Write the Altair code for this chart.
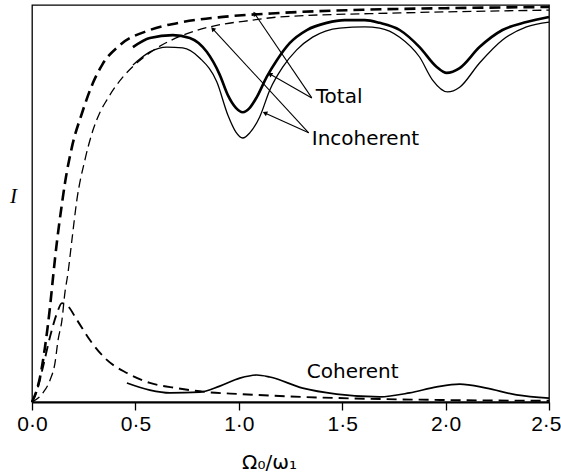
import math
import altair as alt
import pandas as pd

# ---- data (x = Omega0/omega1, y = I, arbitrary units 0..1) ----
# thick dashed curve (upper)
tdash_x = [0, 0.02, 0.039, 0.063, 0.087, 0.101, 0.111, 0.145, 0.159, 0.193, 0.242, 0.295,
           0.340, 0.425, 0.570, 0.729, 0.923, 1.2, 1.6, 2.0, 2.5]
tdash_y = [0, 0.025, 0.063, 0.139, 0.239, 0.31, 0.36, 0.50, 0.55, 0.642, 0.728, 0.804,
           0.850, 0.899, 0.937, 0.957, 0.970, 0.980, 0.988, 0.992, 0.995]
# thin dashed curve
ndash_x = [0, 0.053, 0.087, 0.111, 0.126, 0.145, 0.159, 0.174, 0.193, 0.217, 0.256, 0.295,
           0.329, 0.362, 0.440, 0.488, 0.570, 0.729, 0.860, 1.068, 1.198, 1.778, 2.5]
ndash_y = [0, 0.023, 0.055, 0.098, 0.156, 0.207, 0.275, 0.325, 0.408, 0.509, 0.610, 0.685,
           0.730, 0.761, 0.819, 0.845, 0.880, 0.924, 0.945, 0.962, 0.970, 0.980, 0.987]
# thick solid "Total"
total_x = [0.488, 0.570, 0.681, 0.763, 0.845, 0.908, 0.947, 0.986, 1.019, 1.053, 1.087, 1.135,
           1.184, 1.246, 1.329, 1.425, 1.512, 1.609, 1.681, 1.778, 1.874, 1.957, 2.005, 2.068,
           2.164, 2.275, 2.391, 2.5]
total_y = [0.894, 0.917, 0.924, 0.917, 0.882, 0.824, 0.773, 0.741, 0.730, 0.741, 0.768, 0.819,
           0.861, 0.904, 0.937, 0.955, 0.962, 0.962, 0.955, 0.937, 0.894, 0.844, 0.829, 0.841,
           0.894, 0.937, 0.957, 0.970]
# thin solid "Incoherent"
incoh_x = [0.488, 0.570, 0.652, 0.729, 0.812, 0.894, 0.947, 0.986, 1.019, 1.053, 1.101, 1.150,
           1.213, 1.280, 1.357, 1.488, 1.609, 1.681, 1.778, 1.874, 1.937, 2.010, 2.068, 2.164,
           2.275, 2.391, 2.5]
incoh_y = [0.849, 0.882, 0.894, 0.892, 0.866, 0.806, 0.723, 0.680, 0.665, 0.678, 0.718, 0.786,
           0.844, 0.887, 0.919, 0.942, 0.945, 0.942, 0.919, 0.869, 0.811, 0.781, 0.793, 0.854,
           0.912, 0.945, 0.957]
# dashed "Coherent"
cdash_x = [0, 0.024, 0.053, 0.087, 0.121, 0.145, 0.169, 0.217, 0.280, 0.362, 0.459, 0.570,
           0.700, 0.845, 1.005, 1.198, 1.633, 2.0, 2.5]
cdash_y = [0, 0.030, 0.088, 0.164, 0.224, 0.249, 0.244, 0.207, 0.156, 0.106, 0.073, 0.048,
           0.035, 0.025, 0.020, 0.015, 0.008, 0.005, 0.003]
# solid "Coherent"
csol_x = [0.459, 0.570, 0.667, 0.812, 0.908, 1.005, 1.087, 1.150, 1.309, 1.473, 1.681, 1.826,
          1.957, 2.068, 2.198, 2.343, 2.5]
csol_y = [0.048, 0.030, 0.023, 0.025, 0.040, 0.060, 0.068, 0.063, 0.035, 0.020, 0.013, 0.023,
          0.038, 0.045, 0.035, 0.018, 0.010]

# annotation labels and their pointer lines (start at label, end on curve)
labels = ["Total", "Incoherent", "Coherent"]
label_x = [1.372, 1.353, 1.329]
label_y = [0.768, 0.662, 0.076]
arrow_x1 = [1.353, 1.353, 1.338, 1.338]
arrow_y1 = [0.766, 0.766, 0.678, 0.678]
arrow_x2 = [1.077, 1.150, 0.874, 1.126]
arrow_y2 = [0.978, 0.826, 0.940, 0.728]

tick_values = [0, 0.5, 1.0, 1.5, 2.0, 2.5]
tick_labels = ["0·0", "0·5", "1·0", "1·5", "2·0", "2·5"]

W, H = 517, 397
XMAX = 2.5

xscale = alt.Scale(domain=[0, XMAX], nice=False, zero=False)
yscale = alt.Scale(domain=[0, 1], nice=False, zero=False)
label_expr = "[" + ",".join("'" + t + "'" for t in tick_labels) + "][round(datum.value*2)]"
xaxis = alt.Axis(values=tick_values, labelExpr=label_expr, grid=False, labelFlush=False,
                 labelOverlap=False,
                 labelAlign={"condition": {"test": "datum.value >= 2.5", "value": "right"},
                             "value": "center"},
                 labelOffset={"condition": {"test": "datum.value >= 2.5", "value": 12},
                              "value": 0},
                 domainColor="black", domainWidth=2, tickColor="black", tickWidth=1.3,
                 tickSize=8, labelFont="Liberation Sans",
                 labelFontSize=21, labelColor="black", labelPadding=3,
                 title="Ω₀/ω₁", titleFont="DejaVu Sans", titleFontSize=20,
                 titleFontWeight="normal", titleColor="black", titleX=237, titleY=60,
                 titleBaseline="middle", titleAnchor="start", titleAlign="center")
yaxis = alt.Axis(ticks=False, labels=False, domain=False, grid=False,
                 title="I", titleFont="Liberation Serif", titleFontStyle="italic",
                 titleFontSize=21, titleFontWeight="normal", titleColor="black",
                 titleAngle=0, titleX=-19, titleY=191, titleAlign="center",
                 titleBaseline="middle")


def curve(xs, ys, width, dash=None):
    df = pd.DataFrame({"x": xs, "y": ys})
    kw = dict(color="black", strokeWidth=width, interpolate="monotone")
    if dash:
        kw["strokeDash"] = dash
    return alt.Chart(df).mark_line(**kw).encode(
        x=alt.X("x:Q", scale=xscale, axis=xaxis),
        y=alt.Y("y:Q", scale=yscale, axis=yaxis),
    )


layers = [
    curve(tdash_x, tdash_y, 2.6, [11, 6]),
    curve(ndash_x, ndash_y, 1.3, [9, 5]),
    curve(total_x, total_y, 2.6),
    curve(incoh_x, incoh_y, 1.3),
    curve(cdash_x, cdash_y, 1.9, [10, 6]),
    curve(csol_x, csol_y, 1.7),
]

# pointer lines
adf = pd.DataFrame({"x": arrow_x1, "y": arrow_y1, "x2": arrow_x2, "y2": arrow_y2})
angles = []
for a, b, c, d in zip(arrow_x1, arrow_y1, arrow_x2, arrow_y2):
    dx = (c - a) * W / XMAX
    dy = -(d - b) * H
    angles.append(math.degrees(math.atan2(dx, -dy)) % 360)
adf["angle"] = angles
rules = alt.Chart(adf).mark_rule(color="black", strokeWidth=1.1).encode(
    x=alt.X("x:Q", scale=xscale, axis=xaxis), y=alt.Y("y:Q", scale=yscale, axis=yaxis),
    x2="x2:Q", y2="y2:Q")
heads = alt.Chart(adf).mark_point(shape="triangle-up", filled=True, color="black",
                                  size=28, opacity=1).encode(
    x=alt.X("x2:Q", scale=xscale, axis=xaxis), y=alt.Y("y2:Q", scale=yscale, axis=yaxis),
    angle=alt.Angle("angle:Q", scale=None))

tdf = pd.DataFrame({"label": labels, "x": label_x, "y": label_y})
texts = alt.Chart(tdf).mark_text(align="left", baseline="middle", font="DejaVu Sans",
                                 fontSize=20, color="black").encode(
    x=alt.X("x:Q", scale=xscale, axis=xaxis), y=alt.Y("y:Q", scale=yscale, axis=yaxis),
    text="label:N")

chart = alt.layer(*layers, rules, heads, texts).properties(
    width=W, height=H,
    autosize=alt.AutoSizeParams(type="none"),
    padding={"left": 32, "top": 5, "right": 12, "bottom": 73},
    background="white",
).configure_view(stroke="black", strokeWidth=1.3)

chart.save("out.html", embed_options={"renderer": "svg", "actions": False})
